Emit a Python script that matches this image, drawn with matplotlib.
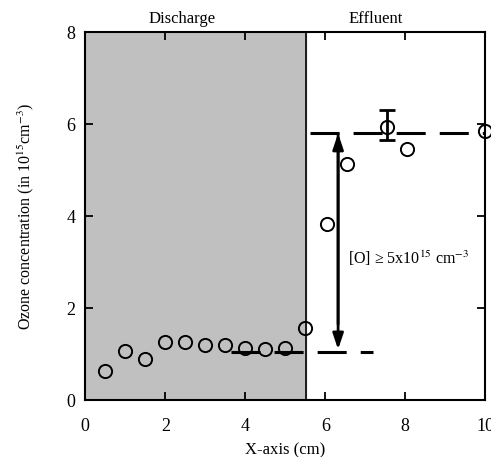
import matplotlib
matplotlib.use("Agg")
import matplotlib.pyplot as plt

plt.rcParams['font.family'] = ['Liberation Serif', 'DejaVu Serif']
plt.rcParams['mathtext.fontset'] = 'stix'

# Data
x_pts = [0.5, 1.0, 1.5, 2.0, 2.5, 3.0, 3.5, 4.0, 4.5, 5.0, 5.5, 6.05, 6.55, 7.55, 8.05, 10.0]
y_pts = [0.64, 1.07, 0.90, 1.26, 1.26, 1.20, 1.20, 1.13, 1.10, 1.14, 1.56, 3.84, 5.13, 5.94, 5.46, 5.85]
err_x = 7.55
err_y = 5.94
err_lo = 0.28
err_hi = 0.36

discharge_end = 5.52
low_level = 1.05
low_range = [3.65, 7.2]
high_level = 5.8
high_range = [5.62, 10.0]
arrow_x = 6.32

fig = plt.figure(figsize=(4.91, 4.57), dpi=100)
ax = fig.add_axes([0.1737, 0.1247, 0.8147, 0.8046])

ax.axvspan(0, discharge_end, color='#c0c0c0', zorder=0)
ax.axvline(discharge_end, color='black', lw=1.2, zorder=1)

# level lines
for rng, lvl in [(low_range, low_level), (high_range, high_level)]:
    ln, = ax.plot(rng, [lvl, lvl], color='black', lw=2.2, zorder=2)
    ln.set_dashes((9.5, 4.6))
    ln.set_dash_capstyle('butt')

# double arrow
ax.annotate('', xy=(arrow_x, low_level + 0.05), xytext=(arrow_x, high_level),
            arrowprops=dict(arrowstyle='-|>,head_length=0.95,head_width=0.32',
                            color='black', lw=2.0, shrinkA=0, shrinkB=0))
ax.annotate('', xy=(arrow_x, high_level), xytext=(arrow_x, low_level + 0.6),
            arrowprops=dict(arrowstyle='-|>,head_length=0.95,head_width=0.32',
                            color='black', lw=2.0, shrinkA=0, shrinkB=0))

ax.errorbar([err_x], [err_y], yerr=[[err_lo], [err_hi]], fmt='none',
            ecolor='black', elinewidth=2.0, capsize=5.5, capthick=2.0, zorder=3)

ax.plot(x_pts, y_pts, 'o', mfc='none', mec='black', ms=9.5, mew=1.4,
        zorder=4, clip_on=False)

ax.text(6.57, 3.09, r'[O] ≥ 5x10$^{15}$ cm$^{-3}$', fontsize=11.5, va='center', ha='left')
ax.text(2.43, 8.12, 'Discharge', fontsize=12, ha='center', va='bottom')
ax.text(7.27, 8.12, 'Effluent', fontsize=12, ha='center', va='bottom')

ax.set_xlim(0, 10)
ax.set_ylim(0, 8)
ax.set_xticks([0, 2, 4, 6, 8, 10])
ax.set_yticks([0, 2, 4, 6, 8])
ax.tick_params(direction='in', length=6, width=1.3, top=True, right=True,
               labelsize=13)
ax.tick_params(axis='x', pad=13)
ax.tick_params(axis='y', pad=7)
for s in ax.spines.values():
    s.set_linewidth(1.5)

ax.set_xlabel('X-axis (cm)', fontsize=12, labelpad=5)
ax.set_ylabel(r'Ozone concentration (in 10$^{15}$cm$^{-3}$)', fontsize=11.5, labelpad=22)

fig.savefig('out.png', dpi=100)
